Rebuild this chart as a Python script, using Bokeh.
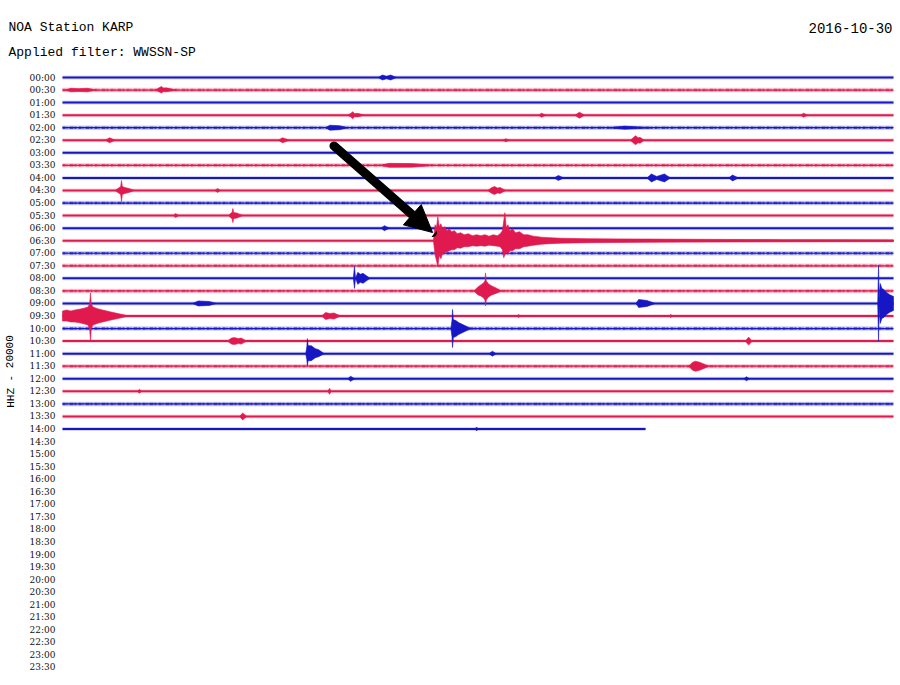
from bokeh.plotting import figure
from bokeh.models import Range1d, Arrow, NormalHead, ColumnDataSource
from bokeh.core.properties import value
from bokeh.embed import file_html
from bokeh.resources import INLINE

# ---------------- data ----------------
STATION = "NOA Station KARP"
FILTER_TEXT = "Applied filter: WWSSN-SP"
DATE = "2016-10-30"
CHANNEL = "HHZ - 20000"

ROW_LABELS = ["00:00", "00:30", "01:00", "01:30", "02:00", "02:30", "03:00", "03:30",
              "04:00", "04:30", "05:00", "05:30", "06:00", "06:30", "07:00", "07:30",
              "08:00", "08:30", "09:00", "09:30", "10:00", "10:30", "11:00", "11:30",
              "12:00", "12:30", "13:00", "13:30", "14:00", "14:30", "15:00", "15:30",
              "16:00", "16:30", "17:00", "17:30", "18:00", "18:30", "19:00", "19:30",
              "20:00", "20:30", "21:00", "21:30", "22:00", "22:30", "23:00", "23:30"]
ROW_MINUTES = 30.0
RECORDED_ROWS = 29          # 00:00 ... 14:00
LAST_ROW_END = 21.05        # minutes recorded in the 14:00 row

# background noise per recorded row (1 = noisy trace)
NOISE = [0, 1, 0, 0, 1, 0, 0, 1, 0, 0, 1, 0, 0, 0, 1, 1, 0, 1, 0, 0, 1, 0, 0, 1, 0, 0, 1, 0, 0]

# events: (row, minutes, amplitude up, amplitude down or None = symmetric)
EVENTS = [
    (0, [11.40, 11.55, 11.70, 11.85, 12.05], [0, 2.5, 1.2, 2.5, 0], None),
    (1, [0.10, 0.30, 0.60, 0.90, 1.20], [0, 1.8, 1.4, 1.8, 0], None),
    (1, [3.35, 3.50, 3.57, 3.65, 3.75, 4.10], [0, 2.5, 3.5, 2.0, 2.2, 0], [0, 2.0, 3.0, 1.5, 1.8, 0]),
    (3, [10.30, 10.42, 10.47, 10.55, 10.65, 10.90], [0, 2.0, 3.5, 1.5, 1.8, 0], None),
    (3, [17.20, 17.29, 17.45], [0, 2.0, 0], None),
    (3, [18.50, 18.66, 18.85], [0, 3.0, 0], None),
    (3, [26.65, 26.75, 26.90], [0, 2.0, 0], None),
    (4, [9.50, 9.65, 10.00, 10.30], [0, 2.5, 2.0, 0], None),
    (4, [19.70, 20.30, 21.30], [0, 1.6, 0], None),
    (5, [1.55, 1.70, 1.90], [0, 2.5, 0], None),
    (5, [7.80, 7.94, 8.20], [0, 2.5, 0], None),
    (5, [15.90, 16.00, 16.15], [0, 1.5, 0], None),
    (5, [20.50, 20.62, 20.69, 20.78, 20.85, 21.00], [0, 3.0, 4.5, 2.5, 3.0, 0], None),
    (7, [11.45, 11.80, 12.60, 13.45], [0, 2.0, 1.8, 0], None),
    (8, [17.75, 17.90, 18.10], [0, 2.5, 0], None),
    (8, [21.10, 21.26, 21.45, 21.73, 21.95], [0, 4.0, 1.5, 4.0, 0], None),
    (8, [24.05, 24.19, 24.40], [0, 3.0, 0], None),
    (9, [1.90, 2.05, 2.10, 2.13, 2.16, 2.25, 2.40, 2.60], [0, 3.0, 4.0, 10.0, 4.0, 3.0, 2.0, 0],
         [0, 3.0, 4.0, 11.0, 4.0, 3.0, 2.0, 0]),
    (9, [5.50, 5.60, 5.70], [0, 2.0, 0], None),
    (9, [15.35, 15.50, 15.60, 15.70, 15.80, 16.00], [0, 3.0, 4.0, 2.5, 3.0, 0], None),
    (11, [4.00, 4.08, 4.20], [0, 2.0, 0], None),
    (11, [6.00, 6.08, 6.12, 6.15, 6.18, 6.30, 6.50], [0, 2.5, 3.0, 7.0, 3.0, 2.5, 0], None),
    (12, [11.50, 11.62, 11.80], [0, 2.5, 0], None),
    (13, [13.39, 13.45, 13.50, 13.55, 13.60, 13.66, 13.72, 13.80, 13.88, 13.96, 14.05, 14.15,
          14.25, 14.37, 14.50, 14.65, 14.80, 14.95, 15.10, 15.25, 15.40, 15.55, 15.70, 15.80,
          15.88, 15.93, 15.97, 16.02, 16.08, 16.15, 16.25, 16.35, 16.50, 16.65, 16.80, 17.00,
          17.30, 17.60, 18.00, 18.50, 19.00, 20.00, 21.00, 22.50, 24.00, 26.00, 28.00, 30.00],
         [0, 16, 13, 24, 14, 17, 12, 14, 10, 12, 9, 10, 7, 8, 6, 7, 5, 6, 5, 6, 4.5, 6, 5, 7,
          10, 20, 28, 13, 16, 10, 12, 8, 9, 6, 6, 4.5, 3.5, 3, 2.5, 2.2, 2, 1.8, 1.6, 1.4, 1.2,
          1.0, 0.9, 0.8],
         [0, 14, 20, 26, 15, 18, 13, 12, 11, 10, 9, 9, 7, 7.5, 6, 6, 5, 5.5, 5, 5.5, 4.5, 5,
          5.5, 6, 9, 17, 14, 12, 13, 10, 10, 8, 8, 6, 5.5, 4.5, 3.5, 3, 2.5, 2.2, 2, 1.8, 1.6,
          1.4, 1.2, 1.0, 0.9, 0.8]),
    (16, [10.50, 10.54, 10.58], [0, 12.0, 0], [0, 10.0, 0]),
    (16, [10.58, 10.66, 10.75, 10.85, 10.95, 11.10], [0, 6.0, 4.0, 5.0, 3.0, 0], None),
    (17, [14.85, 15.00, 15.10, 15.20, 15.25, 15.27, 15.30, 15.38, 15.50, 15.65, 15.85],
         [0, 4, 6, 8, 10, 18, 10, 7, 5, 3, 0], [0, 4, 5, 7, 9, 15, 9, 6, 4, 2.5, 0]),
    (18, [4.70, 4.90, 5.30, 5.55], [0, 2.5, 2.0, 0], None),
    (18, [20.70, 20.80, 21.10, 21.40], [0, 4.0, 3.0, 0], None),
    (18, [29.43, 29.46, 29.49], [0, 38.0, 0], None),
    (18, [29.47, 29.52, 29.58, 29.65, 29.75, 29.85, 30.00], [0, 20.0, 15.0, 14.0, 11.0, 9.0, 7.0],
         None),
    (19, [0.00, 0.15, 0.30, 0.45, 0.65, 0.80, 0.92, 0.98, 1.01, 1.04, 1.10, 1.30, 1.45, 1.60,
          1.75, 2.00, 2.40],
         [5, 6, 5, 6, 7, 8, 9, 12, 23, 12, 9, 7, 6, 5, 4, 2.5, 0],
         [5, 5, 6, 6, 7, 8, 9, 13, 25, 12, 9, 7, 6, 5, 4, 2.5, 0]),
    (19, [9.35, 9.50, 9.65, 9.80, 10.05], [0, 3.5, 2.5, 3.0, 0], None),
    (19, [16.40, 16.46, 16.55], [0, 1.5, 0], None),
    (19, [21.90, 21.95, 22.05], [0, 1.5, 0], None),
    (20, [14.02, 14.06, 14.08, 14.11, 14.20, 14.30, 14.45, 14.75], [0, 8, 19, 9, 8, 6, 4, 0], None),
    (21, [5.95, 6.10, 6.20, 6.35, 6.45, 6.65], [0, 3.0, 3.5, 2.5, 3.0, 0], None),
    (21, [24.65, 24.77, 24.90], [0, 4.0, 0], None),
    (22, [8.78, 8.82, 8.84, 8.87, 8.98, 9.13, 9.25, 9.45], [0, 7, 15, 8, 8, 5, 4, 0],
         [0, 6, 12, 7, 7, 4, 3, 0]),
    (22, [15.40, 15.52, 15.65], [0, 2.5, 0], None),
    (23, [22.60, 22.75, 22.85, 23.00, 23.35], [0, 4.0, 5.0, 4.0, 0], None),
    (24, [10.30, 10.40, 10.55], [0, 2.5, 0], None),
    (24, [24.60, 24.69, 24.80], [0, 2.0, 0], None),
    (25, [2.70, 2.78, 2.85], [0, 2.0, 0], None),
    (25, [9.58, 9.64, 9.70], [0, 3.0, 0], None),
    (27, [6.40, 6.50, 6.65], [0, 3.5, 0], None),
    (28, [14.90, 14.95, 15.00], [0, 2.0, 0], None),
]

# arrow annotation (minute, row)
ARROW_TAIL = (9.80, 5.45)
ARROW_TIP = (13.36, 12.35)

# ---------------- layout / style ----------------
W, H = 894, 680
FRAME_X0 = 62.0                 # canvas px of minute 0
PX_PER_MIN = 831.0 / 30.0
ROW0_Y = 77.0                   # canvas px of first row
PX_PER_ROW = 12.553
AMP_PER_ROW = PX_PER_ROW        # amplitude units per row spacing

BLUE = "#1616c4"
RED = "#e01a4f"
MONO = "Liberation Mono"


def cx(px):
    return (px - FRAME_X0) / PX_PER_MIN


def cy(py):
    return (py - ROW0_Y) / PX_PER_ROW


p = figure(width=W, height=H, output_backend="svg", toolbar_location=None,
           x_range=Range1d(cx(0), cx(W)), y_range=Range1d(cy(H), cy(0)),
           x_axis_type=None, y_axis_type=None, min_border=0,
           background_fill_color="white", border_fill_color="white")
p.outline_line_color = None
p.grid.visible = False

row_color = [BLUE if i % 2 == 0 else RED for i in range(RECORDED_ROWS)]

# baselines
cxs, cys, ccols = [], [], []
nxs, nys, ncols = [], [], []
for i in range(RECORDED_ROWS):
    end = LAST_ROW_END if i == RECORDED_ROWS - 1 else ROW_MINUTES
    if NOISE[i]:
        nxs.append([0, end]); nys.append([i, i]); ncols.append(row_color[i])
    else:
        cxs.append([0, end]); cys.append([i, i]); ccols.append(row_color[i])

p.multi_line(xs=cxs, ys=cys, line_color=ccols, line_width=4, line_alpha=0.18)
p.multi_line(xs=cxs, ys=cys, line_color=ccols, line_width=2)
p.multi_line(xs=nxs, ys=nys, line_color=ncols, line_width=4.5, line_alpha=0.22)
p.multi_line(xs=nxs, ys=nys, line_color=ncols, line_width=2.5, line_alpha=0.7,
             line_dash="3 1 1 2 4 1 2 2")
p.multi_line(xs=nxs, ys=nys, line_color=ncols, line_width=1.2)

# events as envelopes
pxs, pys, pcols = [], [], []
for row, t, up, down in EVENTS:
    if down is None:
        down = up
    upper = [row - a / AMP_PER_ROW for a in up]
    lower = [row + a / AMP_PER_ROW for a in down]
    pxs.append(list(t) + list(t)[::-1])
    pys.append(upper + lower[::-1])
    pcols.append(row_color[row])
p.patches(xs=pxs, ys=pys, fill_color=pcols, line_color=pcols, line_width=0.6)

# row labels
lab = ColumnDataSource(dict(x=[cx(55)] * len(ROW_LABELS), y=list(range(len(ROW_LABELS))),
                            t=ROW_LABELS))
p.text(x="x", y="y", text="t", source=lab, text_align="right", text_baseline="middle",
       text_font=value("DejaVu Serif"), text_font_size="9px", text_color="#111111")

# titles
p.text(x=[cx(8)], y=[cy(27)], text=[STATION], text_align="left", text_baseline="middle",
       text_font=value(MONO), text_font_size="13px", text_color="#000000")
p.text(x=[cx(8)], y=[cy(52)], text=[FILTER_TEXT], text_align="left", text_baseline="middle",
       text_font=value(MONO), text_font_size="13px", text_color="#000000")
p.text(x=[cx(892)], y=[cy(27)], text=[DATE], text_align="right", text_baseline="middle",
       text_font=value(MONO), text_font_size="14px", text_color="#000000")
p.text(x=[cx(10)], y=[cy(371)], text=[CHANNEL], angle=1.5708, text_align="center",
       text_baseline="middle", text_font=value(MONO), text_font_size="11px",
       text_color="#000000")

# arrow
p.add_layout(Arrow(end=NormalHead(size=27, fill_color="black", line_color="black"),
                   x_start=ARROW_TAIL[0], y_start=ARROW_TAIL[1],
                   x_end=ARROW_TIP[0], y_end=ARROW_TIP[1],
                   line_color="black", line_width=9, line_cap="round"))

open("out.html", "w").write(file_html(p, INLINE))
